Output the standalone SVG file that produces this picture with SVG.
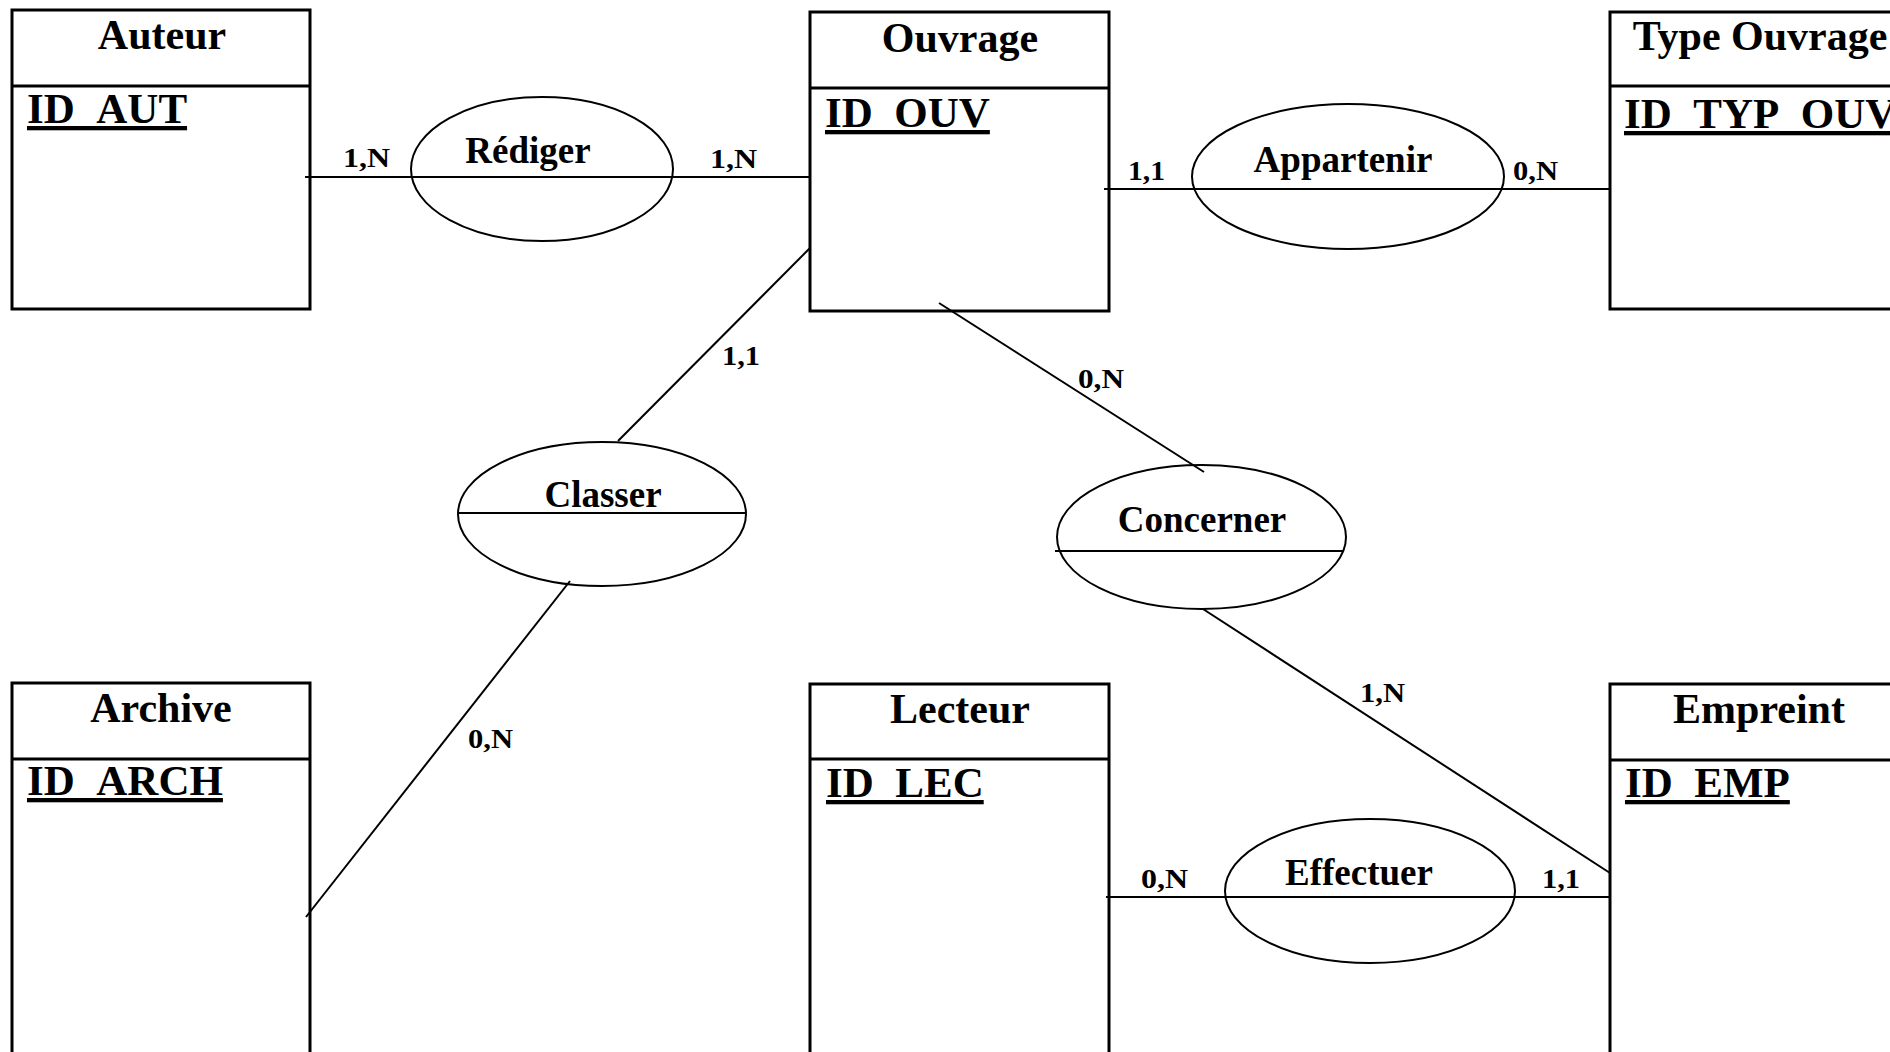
<svg xmlns="http://www.w3.org/2000/svg" width="1890" height="1052" viewBox="0 0 1890 1052">
  <style>
    .box { fill: #fff; stroke: #000; stroke-width: 3; }
    .sep { stroke: #000; stroke-width: 3; }
    .rel { fill: #fff; stroke: #000; stroke-width: 2; }
    .link { stroke: #000; stroke-width: 2; fill: none; }
    text { font-family: "Liberation Serif", "Times New Roman", serif; font-weight: bold; fill: #000; }
    .title { font-size: 42px; text-anchor: middle; }
    .key { font-size: 43px; text-decoration: underline; }
    .rname { font-size: 37px; text-anchor: middle; }
    .card { font-size: 27px; }
  </style>
  <rect width="1890" height="1052" fill="#fff"/>

  <!-- entities -->
  <g id="ent-auteur">
    <rect class="box" x="12" y="10" width="298" height="299"/>
    <line class="sep" x1="12" y1="86" x2="310" y2="86"/>
    <text class="title" x="162" y="49">Auteur</text>
    <text class="key" x="27" y="123">ID_AUT</text>
  </g>
  <g id="ent-ouvrage">
    <rect class="box" x="810" y="12" width="299" height="299"/>
    <line class="sep" x1="810" y1="88" x2="1109" y2="88"/>
    <text class="title" x="960" y="52">Ouvrage</text>
    <text class="key" x="825" y="127">ID_OUV</text>
  </g>
  <g id="ent-type-ouvrage">
    <rect class="box" x="1610" y="12" width="299" height="297"/>
    <line class="sep" x1="1610" y1="86" x2="1909" y2="86"/>
    <text class="title" x="1760" y="50">Type Ouvrage</text>
    <text class="key" x="1624" y="128">ID_TYP_OUV</text>
  </g>
  <g id="ent-archive">
    <rect class="box" x="12" y="683" width="298" height="400"/>
    <line class="sep" x1="12" y1="759" x2="310" y2="759"/>
    <text class="title" x="161" y="722">Archive</text>
    <text class="key" x="27" y="795">ID_ARCH</text>
  </g>
  <g id="ent-lecteur">
    <rect class="box" x="810" y="684" width="299" height="400"/>
    <line class="sep" x1="810" y1="759" x2="1109" y2="759"/>
    <text class="title" x="960" y="723">Lecteur</text>
    <text class="key" x="826" y="797">ID_LEC</text>
  </g>
  <g id="ent-empreint">
    <rect class="box" x="1610" y="684" width="299" height="400"/>
    <line class="sep" x1="1610" y1="760" x2="1909" y2="760"/>
    <text class="title" x="1759" y="723">Empreint</text>
    <text class="key" x="1625" y="797">ID_EMP</text>
  </g>

  <!-- relationship ellipses -->
  <g id="rel-rediger">
    <ellipse class="rel" cx="542" cy="169" rx="131" ry="72"/>
    <text class="rname" x="528" y="163">Rédiger</text>
  </g>
  <g id="rel-appartenir">
    <ellipse class="rel" cx="1348" cy="176.5" rx="156" ry="72.5"/>
    <text class="rname" x="1343" y="172">Appartenir</text>
  </g>
  <g id="rel-classer">
    <ellipse class="rel" cx="602" cy="514" rx="144" ry="72"/>
    <line class="link" x1="458" y1="513" x2="746" y2="513"/>
    <text class="rname" x="603" y="507">Classer</text>
  </g>
  <g id="rel-concerner">
    <ellipse class="rel" cx="1201.5" cy="537" rx="144.5" ry="72"/>
    <line class="link" x1="1055" y1="551" x2="1344" y2="551"/>
    <text class="rname" x="1202" y="532">Concerner</text>
  </g>
  <g id="rel-effectuer">
    <ellipse class="rel" cx="1370" cy="891" rx="145" ry="72"/>
    <text class="rname" x="1359" y="885">Effectuer</text>
  </g>

  <!-- connectors, drawn over boxes and ellipses -->
  <g id="connectors">
    <line class="link" x1="305" y1="177" x2="810" y2="177"/>
    <line class="link" x1="1104" y1="189" x2="1610" y2="189"/>
    <line class="link" x1="810" y1="248" x2="618" y2="441"/>
    <line class="link" x1="570" y1="581" x2="306" y2="917"/>
    <line class="link" x1="939" y1="303" x2="1204" y2="472"/>
    <line class="link" x1="1203" y1="609" x2="1610" y2="873"/>
    <line class="link" x1="1106" y1="897" x2="1610" y2="897"/>
  </g>

  <!-- cardinalities -->
  <g id="cardinalities">
    <text class="card" x="343" y="167" textLength="47" lengthAdjust="spacingAndGlyphs">1,N</text>
    <text class="card" x="710" y="168" textLength="47" lengthAdjust="spacingAndGlyphs">1,N</text>
    <text class="card" x="1128" y="180" textLength="37" lengthAdjust="spacingAndGlyphs">1,1</text>
    <text class="card" x="1513" y="180" textLength="45" lengthAdjust="spacingAndGlyphs">0,N</text>
    <text class="card" x="722" y="365" textLength="38" lengthAdjust="spacingAndGlyphs">1,1</text>
    <text class="card" x="1078" y="388" textLength="46" lengthAdjust="spacingAndGlyphs">0,N</text>
    <text class="card" x="468" y="748" textLength="45" lengthAdjust="spacingAndGlyphs">0,N</text>
    <text class="card" x="1360" y="702" textLength="45" lengthAdjust="spacingAndGlyphs">1,N</text>
    <text class="card" x="1141" y="888" textLength="47" lengthAdjust="spacingAndGlyphs">0,N</text>
    <text class="card" x="1542" y="888" textLength="38" lengthAdjust="spacingAndGlyphs">1,1</text>
  </g>
</svg>
